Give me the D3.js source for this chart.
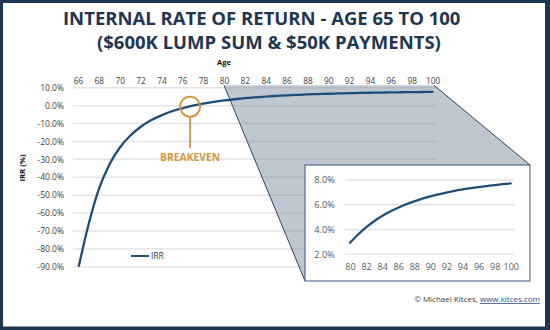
<!DOCTYPE html>
<html>
<head>
<meta charset="utf-8">
<script src="https://cdn.jsdelivr.net/npm/d3@7"></script>
<style>
  html, body { margin: 0; padding: 0; background: #fff; }
  svg { display: block; }
  text { font-family: "Open Sans", "DejaVu Sans", sans-serif; }
</style>
</head>
<body>
<svg id="chart" width="550" height="330"></svg>
<script>
// ---- data ----
const ages = [66,67,68,69,70,71,72,73,74,75,76,77,78,79,80,81,82,83,84,85,86,87,88,89,90,91,92,93,94,95,96,97,98,99,100];
const irr = [-91.7,-66.7,-46.7,-33.0,-23.5,-16.8,-11.9,-8.2,-5.4,-3.1,-1.44,0.0,1.18,2.13,2.93,3.6,4.18,4.67,5.09,5.45,5.76,6.04,6.28,6.49,6.68,6.84,6.99,7.12,7.24,7.34,7.43,7.51,7.59,7.66,7.72];
const xTicks = [66,68,70,72,74,76,78,80,82,84,86,88,90,92,94,96,98,100];
const yTicks = [10,0,-10,-20,-30,-40,-50,-60,-70,-80,-90];
const insetXTicks = [80,82,84,86,88,90,92,94,96,98,100];
const insetYTicks = [2,4,6,8];
const titleLines = ["INTERNAL RATE OF RETURN - AGE 65 TO 100", "($600K LUMP SUM & $50K PAYMENTS)"];
const breakevenAge = 76.75;

const data = ages.map((a, i) => ({age: a, v: irr[i]}));

const svg = d3.select("#chart");
const navy = "#1f3652";
const lineCol = "#1f4e79";
const orange = "#d4963c";

// frame
svg.append("rect").attr("width", 550).attr("height", 330).attr("fill", navy);
svg.append("rect").attr("x", 3).attr("y", 3).attr("width", 542).attr("height", 323.5).attr("fill", "#fff");

function fit(sel, target) {
  const len = sel.node().getComputedTextLength();
  const fs = parseFloat(sel.attr("font-size"));
  sel.attr("font-size", fs * target / len);
}
// place text so that its ink spans [left, left+width], using letter-spacing
function spreadBetween(sel, left, width) {
  const len = sel.node().getComputedTextLength();
  const n = sel.text().length;
  const ls = Math.max(0, (width - len) / (n - 1));
  sel.attr("letter-spacing", ls).attr("text-anchor", "start").attr("x", left);
}

// title
const t1 = svg.append("text").attr("y", 25)
  .attr("font-family", "Lato").attr("font-size", 18.5).attr("font-weight", 700).attr("fill", navy).text(titleLines[0]);
spreadBetween(t1, 63, 380);
const t2 = svg.append("text").attr("y", 49)
  .attr("font-family", "Lato").attr("font-size", 18.5).attr("font-weight", 700).attr("fill", navy).text(titleLines[1]);
spreadBetween(t2, 97, 330);

// scales
const x = d3.scaleLinear().domain([66, 100]).range([78, 432.5]);
const y = d3.scaleLinear().domain([-90, 10]).range([266.7, 87.8]);
const plotL = 73, plotR = 437;

// gridlines
svg.append("g").selectAll("line").data(yTicks).join("line")
  .attr("x1", plotL).attr("x2", plotR)
  .attr("y1", d => y(d)).attr("y2", d => y(d))
  .attr("stroke", "#e4e4e4").attr("stroke-width", 1.5);

// axes (labels only)
const xAxis = svg.append("g").attr("transform", `translate(0,${y(10) - 4})`)
  .call(d3.axisTop(x).tickValues(xTicks).tickSize(0).tickPadding(0).tickFormat(d3.format("d")));
xAxis.select(".domain").remove();
xAxis.selectAll("text").attr("font-family", "Open Sans").attr("font-size", 8.3).attr("fill", "#404040");

const yAxis = svg.append("g").attr("transform", `translate(64,0)`)
  .call(d3.axisLeft(y).tickValues(yTicks).tickSize(0).tickPadding(0).tickFormat(d => d.toFixed(1) + "%"));
yAxis.select(".domain").remove();
yAxis.selectAll("text").attr("font-family", "Open Sans").attr("font-size", 8.5).attr("fill", "#404040");

// axis titles
svg.append("text").attr("x", 224).attr("y", 65).attr("text-anchor", "middle")
  .attr("font-size", 7.5).attr("font-weight", 700).attr("fill", "#111").text("Age");
svg.append("text").attr("transform", "translate(25,168) rotate(-90)").attr("text-anchor", "middle")
  .attr("font-size", 7.8).attr("font-weight", 700).attr("fill", "#111").text("IRR (%)");

// zoom region (grey)
const inL = 305, inR = 530, inT = 165, inB = 281;
const gx0 = x(80), gx1 = x(100) + 1.5, gy = y(10) - 2.5;
svg.append("path")
  .attr("d", `M${gx0},${gy} L${gx1},${gy} L${inR},${inT} L${inR},${inB} L${inL},${inB} Z`)
  .attr("fill", "rgba(120,138,158,0.47)");

// main line
svg.append("clipPath").attr("id", "plotclip").append("rect")
  .attr("x", plotL).attr("y", y(10) - 6).attr("width", plotR - plotL).attr("height", y(-90) - y(10) + 6);
const line = d3.line().x(d => x(d.age)).y(d => y(d.v)).curve(d3.curveMonotoneX);
svg.append("path").datum(data).attr("d", line).attr("clip-path", "url(#plotclip)")
  .attr("fill", "none").attr("stroke", lineCol).attr("stroke-width", 2.3).attr("stroke-linecap", "round");

// diagonal outlines
svg.append("line").attr("x1", gx0).attr("y1", gy).attr("x2", inL).attr("y2", inB)
  .attr("stroke", "#2c4564").attr("stroke-width", 1);
svg.append("line").attr("x1", gx1).attr("y1", gy).attr("x2", inR).attr("y2", inT)
  .attr("stroke", "#2c4564").attr("stroke-width", 1);

// inset
svg.append("rect").attr("x", inL).attr("y", inT).attr("width", inR - inL).attr("height", inB - inT)
  .attr("fill", "#fff").attr("stroke", "#3d5678").attr("stroke-width", 1);
const ix = d3.scaleLinear().domain([80, 100]).range([350, 510.7]);
const iy = d3.scaleLinear().domain([2, 8]).range([254.3, 180]);
svg.append("g").selectAll("line").data(insetYTicks).join("line")
  .attr("x1", 345).attr("x2", 514)
  .attr("y1", d => iy(d)).attr("y2", d => iy(d))
  .attr("stroke", "#e4e4e4").attr("stroke-width", 1.5);
const iyAxis = svg.append("g").attr("transform", "translate(335,0)")
  .call(d3.axisLeft(iy).tickValues(insetYTicks).tickSize(0).tickPadding(0).tickFormat(d => d.toFixed(1) + "%"));
iyAxis.select(".domain").remove();
iyAxis.selectAll("text").attr("font-family", "Open Sans").attr("font-size", 9.3).attr("fill", "#595959");
const ixAxis = svg.append("g").attr("transform", "translate(0,263.5)")
  .call(d3.axisBottom(ix).tickValues(insetXTicks).tickSize(0).tickPadding(0).tickFormat(d3.format("d")));
ixAxis.select(".domain").remove();
ixAxis.selectAll("text").attr("font-family", "Open Sans").attr("font-size", 9).attr("fill", "#595959");
const iline = d3.line().x(d => ix(d.age)).y(d => iy(d.v)).curve(d3.curveMonotoneX);
svg.append("path").datum(data.filter(d => d.age >= 80)).attr("d", iline)
  .attr("fill", "none").attr("stroke", lineCol).attr("stroke-width", 2.3).attr("stroke-linecap", "round");

// breakeven annotation
const bx = x(breakevenAge), by = y(0) + 1;
svg.append("circle").attr("cx", bx).attr("cy", by).attr("r", 10)
  .attr("fill", "none").attr("stroke", orange).attr("stroke-width", 1.8);
svg.append("line").attr("x1", bx).attr("x2", bx).attr("y1", by + 10).attr("y2", 148)
  .attr("stroke", orange).attr("stroke-width", 1.8);
const bt = svg.append("text").attr("x", bx).attr("y", 160.5).attr("text-anchor", "middle")
  .attr("font-family", "Lato").attr("font-size", 10.5).attr("font-weight", 700).attr("fill", orange).text("BREAKEVEN");
fit(bt, 60);

// legend
svg.append("line").attr("x1", 131).attr("x2", 149).attr("y1", 256).attr("y2", 256)
  .attr("stroke", lineCol).attr("stroke-width", 2);
svg.append("text").attr("x", 151).attr("y", 259).attr("font-size", 8.5).attr("fill", "#404040").text("IRR");

// footer
const ft = svg.append("text").attr("x", 540).attr("y", 302).attr("text-anchor", "end")
  .attr("font-size", 8).attr("fill", "#404040");
ft.append("tspan").text("© Michael Kitces, ");
ft.append("tspan").attr("fill", "#2f4f8f").attr("text-decoration", "underline").text("www.kitces.com");
</script>
</body>
</html>
